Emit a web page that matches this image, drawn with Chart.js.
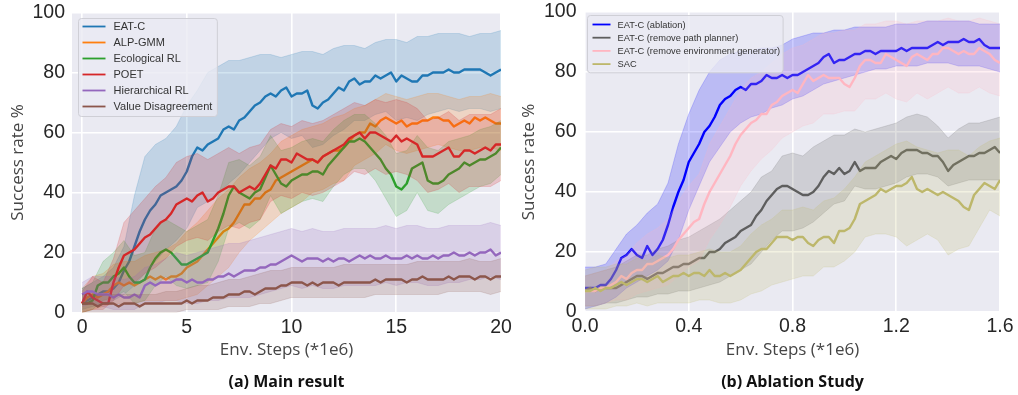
<!DOCTYPE html>
<html>
<head>
<meta charset="utf-8">
<script src="https://cdn.jsdelivr.net/npm/chart.js@4.4.0/dist/chart.umd.min.js"></script>
<style>
  html, body { margin: 0; padding: 0; background: #fff; }
  #wrap { position: relative; width: 1018px; height: 395px; overflow: hidden; }
  canvas { position: absolute; top: 0; }
  #mainChart { left: 0; }
  #ablChart { left: 509px; }
</style>
</head>
<body>
<div id="wrap">
  <canvas id="mainChart" width="530" height="395"></canvas>
  <canvas id="ablChart" width="509" height="395"></canvas>
</div>
<script>
// ---- shared axes ----
var yTicks = [0, 20, 40, 60, 80, 100];

// ---- (a) Main result : x in 1e6 env steps, lines every 0.25, bands every 0.5 ----
var mainXTicks = [0, 5, 10, 15, 20];
var mainStep = 0.25;
var mainBandStep = 0.5;
var mainLabels = ['EAT-C', 'ALP-GMM', 'Ecological RL', 'POET', 'Hierarchical RL', 'Value Disagreement'];
var mainColors = ['31,119,180', '255,127,14', '44,160,44', '214,39,40', '148,103,189', '140,86,75'];

var eatcMean = [3,4,5,6,7,7,8,10,14,17, 22,27,31,34,36,39,40,41,42,44, 47,52,55,54,56,57,58,61,62,61,
  64,65,67,69,70,72,73,72,74,75, 72,73,73,74,69,68,70,71,73,75, 74,77,78,76,77,77,79,78,79,80,
  77,79,78,77,77,79,79,80,80,80, 81,80,80,81,81,81,81,80,79,80, 81];
var eatcUpper = [8,10,12,15,22,39,52,56,58,62, 69,74,80,82,84,84,85,86,86,85, 86,87,87,86,88,89,89,88,90,91,
  91,90,92,92,93,93,93,92,93,93, 94];
var eatcLower = [1,2,3,4,6,9,13,17,21,24, 28,35,37,40,43,46,50,54,58,60, 58,59,55,56,59,61,64,64,66,67,
  64,65,64,66,67,68,67,68,68,67, 68];

var alpMean = [3,5,6,5,6,7,9,10,9,10, 9,10,11,12,11,12,11,12,12,13, 15,16,17,19,21,23,25,27,28,30,
  33,36,36,38,38,40,41,44,45,46, 47,48,49,50,51,50,52,53,54,54, 55,57,59,60,60,63,62,64,65,64,
  63,64,62,63,63,64,64,65,65,64, 64,62,63,64,63,65,64,65,64,63, 63];
var alpUpper = [8,12,13,16,17,17,19,20,21,23, 27,30,34,38,41,45,48,50,53,57, 59,61,62,63,65,66,68,69,71,73,
  72,71,72,73,73,72,71,72,72,73, 72];
var alpLower = [0,1,2,3,3,3,4,4,4,4, 5,6,9,12,15,20,24,27,30,33, 35,37,40,41,43,44,49,51,53,56,
  54,53,54,55,56,55,54,54,55,55, 54];

var ecoMean = [3,3,4,9,10,10,12,13,15,12, 10,10,11,15,18,20,21,20,18,16, 16,17,18,19,20,24,28,33,39,42,
  40,39,38,40,41,45,49,46,43,42, 44,45,46,46,47,47,46,49,51,53, 55,57,57,58,57,55,53,51,48,46,
  42,41,43,48,49,50,44,43,43,44, 46,47,48,50,49,50,51,51,52,53, 55];
var ecoUpper = [8,10,17,20,24,19,20,28,31,29, 27,29,31,39,50,51,49,52,59,54, 55,57,58,57,61,64,66,66,63,59,
  53,54,59,55,54,57,58,59,61,62, 64];
var ecoLower = [0,1,4,5,7,3,4,9,12,9, 8,9,10,17,28,30,28,31,39,33, 35,37,38,37,42,46,48,48,44,38,
  32,34,40,34,33,36,38,40,42,43, 46];

var poetMean = [3,7,5,4,3,3,10,15,19,20, 21,23,25,26,28,30,31,33,36,37, 38,37,39,40,37,38,40,41,42,42,
  40,41,42,41,43,46,49,48,51,51, 50,53,52,51,51,50,52,53,54,55, 56,58,59,60,58,60,60,59,58,57,
  59,57,58,57,56,52,52,52,53,54, 55,52,52,54,54,53,54,55,54,56, 56];
var poetUpper = [7,12,10,18,30,34,38,42,45,50, 52,53,51,53,55,53,55,56,61,63, 62,64,63,64,66,68,70,69,71,70,
  71,70,68,64,65,67,64,66,66,66, 68];
var poetLower = [0,1,1,4,9,10,13,15,18,22, 24,25,24,27,29,28,30,31,37,39, 38,40,39,40,42,44,47,46,48,46,
  47,46,44,40,41,43,40,42,42,42, 44];

var hrlMean = [6,7,7,6,6,6,5,6,5,5, 6,5,9,10,9,10,10,10,11,11, 10,11,10,10,11,11,12,12,13,12,
  13,14,14,14,15,15,16,16,17,18, 19,18,17,18,18,18,17,18,17,18, 18,17,18,19,18,19,18,18,19,18,
  18,18,19,18,19,18,18,19,18,19, 19,20,19,19,20,19,20,20,21,19, 20];
var hrlUpper = [10,12,12,12,11,12,15,16,18,20, 19,20,21,22,23,23,24,25,26,27, 28,27,28,27,27,28,28,28,28,29,
  28,29,29,28,28,29,29,29,29,30, 29];
var hrlLower = [2,3,2,1,1,1,3,3,4,4, 3,3,4,4,5,5,5,6,7,8, 9,8,9,8,8,9,9,9,9,10,
  9,10,10,9,9,10,10,11,11,12, 11];

var vdMean = [3,3,3,2,3,3,3,2,3,3, 3,2,3,3,3,3,3,3,3,3, 4,3,4,4,4,5,5,5,6,6,
  6,7,7,6,7,8,8,8,9,9, 10,10,10,9,10,9,10,10,10,9, 10,10,10,10,10,10,11,10,11,11,
  11,11,10,11,11,12,11,11,11,11, 12,11,12,12,12,11,12,12,11,12, 12];
var vdUpper = [6,6,6,6,6,6,6,6,7,7, 8,9,9,10,11,11,12,13,14,14, 15,15,15,15,15,16,16,16,16,16,
  16,16,17,17,17,17,17,18,17,17, 18];
var vdLower = [0,0,0,0,0,0,0,0,0,0, 1,1,1,1,2,2,2,3,3,4, 5,5,5,5,5,5,5,5,6,6,
  6,6,6,6,6,7,7,7,7,6, 7];

// ---- (b) Ablation Study : lines every 0.02, bands every 0.04 ----
var ablXTicks = [0, 0.4, 0.8, 1.2, 1.6];
var ablStep = 0.02;
var ablBandStep = 0.04;
var ablLabels = ['EAT-C (ablation)', 'EAT-C (remove path planner)', 'EAT-C (remove environment generator)', 'SAC'];
var ablColors = ['0,0,255', '94,94,94', '255,182,193', '189,183,107'];

var fullMean = [8,8,8,9,9,11,14,18,19,21, 19,18,22,19,21,24,29,35,40,44, 50,53,56,60,62,65,69,71,72,74,
  75,74,76,76,77,79,78,78,79,78, 79,79,80,81,82,83,85,86,83,84, 84,85,86,86,87,87,86,87,87,87,
  87,88,87,88,88,88,88,89,90,89, 90,90,90,91,90,90,91,89,88,88, 88];
var fullUpper = [15,15,16,21,26,29,33,36,43,56, 66,74,80,84,86,87,87,88,88,89, 91,92,93,93,94,94,95,95,95,95,
  96,96,96,97,97,97,97,97,96,96, 96];
var fullLower = [1,2,3,5,8,10,12,14,17,24, 34,42,50,55,60,63,65,66,68,69, 71,72,74,76,77,78,79,80,81,81,
  82,82,82,83,83,83,82,82,82,81, 80];

var noPlanMean = [7,8,7,8,8,8,8,9,10,11, 12,12,11,12,13,13,14,15,15,16, 16,17,18,18,20,20,21,23,24,25,
  27,28,29,32,34,37,39,41,42,42, 41,40,39,39,40,42,45,47,46,48, 46,47,50,47,48,48,48,50,51,52,
  51,53,54,54,54,53,53,52,52,50, 47,49,50,51,52,52,53,53,54,55, 53];
var noPlanUpper = [12,13,14,15,17,19,19,21,22,24, 25,27,29,31,34,37,40,45,47,52, 53,52,55,57,59,59,61,60,61,62,
  63,65,66,65,62,58,61,63,63,64, 65];
var noPlanLower = [2,2,3,3,4,5,5,6,6,7, 7,8,9,10,12,14,16,20,24,27, 27,28,30,33,36,37,42,41,41,42,
  43,45,46,46,45,42,43,44,44,44, 44];

var noGenMean = [7,7,7,8,8,9,10,12,11,13, 14,14,16,16,17,18,19,21,24,26, 28,30,31,36,40,43,46,49,52,56,
  59,61,63,64,66,66,69,70,72,73, 74,73,76,79,77,78,79,78,78,78, 76,75,78,82,84,84,83,83,86,85,
  84,83,82,85,86,85,84,86,86,88, 88,87,86,87,86,86,88,87,86,84, 83];
var noGenUpper = [12,13,14,17,19,23,26,28,31,37, 42,46,56,62,68,74,78,80,83,86, 88,89,91,93,93,94,94,96,96,97,
  97,96,97,97,97,98,97,97,98,97, 96];
var noGenLower = [2,2,3,4,4,6,7,8,9,12, 15,17,24,29,35,42,47,51,54,58, 60,62,63,66,66,67,67,71,71,73,
  71,70,73,71,73,75,73,73,75,73, 72];

var sacMean = [7,7,8,7,8,8,9,10,9,10, 11,11,10,11,12,10,11,12,12,13, 12,13,13,12,14,12,12,13,12,13,
  14,16,18,20,21,21,23,25,25,25, 24,25,25,23,22,24,25,25,23,27, 27,28,31,36,37,38,39,41,40,41,
  42,42,43,45,41,40,41,40,39,40, 39,38,37,35,34,39,41,43,42,41, 44];
var sacUpper = [14,15,15,16,16,18,17,19,18,19, 19,20,21,20,20,22,26,29,31,34, 34,35,34,37,38,41,45,50,52,54,
  56,57,55,54,53,54,54,52,55,57, 58];
var sacLower = [1,1,1,2,2,3,2,3,3,3, 3,4,4,3,3,4,6,7,9,10, 11,12,12,15,15,17,20,25,26,26,
  25,22,24,26,24,19,21,22,28,34, 32];

// ---- helpers ----
function toPoints(values, step) {
  return values.map(function(v, i) { return {x: Math.round(i * step * 1000) / 1000, y: v}; });
}

function buildDatasets(series, labels, colors, step, bandStep) {
  var sets = [];
  var n = series.length;
  for (var k = 0; k < n; k++) {
    var s = series[k];
    var c = colors[k];
    var base = (n - k) * 10;
    sets.push({
      label: labels[k] + ' upper',
      data: toPoints(s.upper, bandStep),
      borderColor: 'rgba(' + c + ',0.22)',
      borderWidth: 0.8,
      backgroundColor: 'rgba(' + c + ',0.2)',
      fill: '+1',
      pointRadius: 0,
      order: base + 2
    });
    sets.push({
      label: labels[k] + ' lower',
      data: toPoints(s.lower, bandStep),
      borderColor: 'rgba(' + c + ',0.22)',
      borderWidth: 0.8,
      fill: false,
      pointRadius: 0,
      order: base + 1
    });
    sets.push({
      label: labels[k],
      data: toPoints(s.mean, step),
      borderColor: 'rgb(' + c + ')',
      borderWidth: 2.4,
      fill: false,
      pointRadius: 0,
      borderJoinStyle: 'round',
      order: base
    });
  }
  return sets;
}

var plotBg = {
  id: 'plotBg',
  beforeDraw: function(chart) {
    var ca = chart.chartArea, ctx = chart.ctx;
    ctx.save();
    ctx.fillStyle = '#EAEAF2';
    ctx.fillRect(ca.left, ca.top, ca.right - ca.left, ca.bottom - ca.top);
    ctx.restore();
  }
};

var caption = {
  id: 'caption',
  afterDraw: function(chart, args, opts) {
    var ca = chart.chartArea, ctx = chart.ctx;
    ctx.save();
    ctx.font = 'bold 16px "Open Sans", sans-serif';
    ctx.fillStyle = '#111';
    ctx.textAlign = 'center';
    ctx.textBaseline = 'middle';
    ctx.fillText(opts.text, (ca.left + ca.right) / 2, opts.y);
    ctx.restore();
  }
};

function roundRect(ctx, x, y, w, h, r) {
  ctx.beginPath();
  ctx.moveTo(x + r, y);
  ctx.arcTo(x + w, y, x + w, y + h, r);
  ctx.arcTo(x + w, y + h, x, y + h, r);
  ctx.arcTo(x, y + h, x, y, r);
  ctx.arcTo(x, y, x + w, y, r);
  ctx.closePath();
}

var boxLegend = {
  id: 'boxLegend',
  afterDraw: function(chart, args, o) {
    var ctx = chart.ctx, ca = chart.chartArea;
    ctx.save();
    ctx.font = o.fontSize + 'px "Liberation Sans", Arial, sans-serif';
    var maxW = 0;
    o.labels.forEach(function(l) { maxW = Math.max(maxW, ctx.measureText(l).width); });
    var bx = Math.round(ca.left + o.offsetX) + 0.5, by = Math.round(ca.top + o.offsetY) + 0.5;
    var bw = o.padLeft + o.sampleLen + o.gap + maxW + o.padRight;
    var bh = o.padTop + o.rowH * (o.labels.length - 1) + o.padBottom;
    roundRect(ctx, bx, by, bw, bh, 3);
    ctx.fillStyle = 'rgba(234,234,242,0.8)';
    ctx.fill();
    ctx.strokeStyle = '#cfcfd6';
    ctx.lineWidth = 1;
    ctx.stroke();
    o.labels.forEach(function(l, i) {
      var cy = by + o.padTop + i * o.rowH;
      ctx.strokeStyle = 'rgb(' + o.colors[i] + ')';
      ctx.lineWidth = o.lineW;
      ctx.beginPath();
      ctx.moveTo(bx + o.padLeft, cy);
      ctx.lineTo(bx + o.padLeft + o.sampleLen, cy);
      ctx.stroke();
      ctx.fillStyle = '#333';
      ctx.textAlign = 'left';
      ctx.textBaseline = 'middle';
      ctx.fillText(l, bx + o.padLeft + o.sampleLen + o.gap, cy + 0.5);
    });
    ctx.restore();
  }
};

function makeChart(id, p) {
  var tickFont = {family: '"Liberation Sans", Arial, sans-serif', size: 19.5};
  var titleFont = {family: '"Open Sans", sans-serif', size: 17};
  return new Chart(document.getElementById(id), {
    type: 'line',
    data: {datasets: p.datasets},
    plugins: [plotBg, boxLegend, caption],
    options: {
      responsive: false,
      animation: false,
      devicePixelRatio: 1,
      layout: {padding: p.padding},
      elements: {line: {tension: 0}},
      plugins: {
        legend: {display: false},
        tooltip: {enabled: false},
        boxLegend: p.legend,
        caption: {text: p.caption, y: 382.5}
      },
      scales: {
        x: {
          type: 'linear',
          min: p.xMin,
          max: p.xMax,
          afterBuildTicks: function(s) { s.ticks = p.xTicks.map(function(v) { return {value: v}; }); },
          afterFit: function(s) { s.height = p.xHeight; s.paddingLeft = 0; s.paddingRight = 0; },
          grid: {color: '#ffffff', lineWidth: 1.6, drawTicks: false},
          border: {display: false},
          ticks: {
            font: tickFont, color: '#262626', padding: 3, maxRotation: 0, autoSkip: false,
            callback: p.xFormat
          },
          title: {display: true, text: 'Env. Steps (*1e6)', font: titleFont, color: '#454545', padding: {top: 0, bottom: 4.8}}
        },
        y: {
          type: 'linear',
          min: 0,
          max: 100,
          afterBuildTicks: function(s) { s.ticks = yTicks.map(function(v) { return {value: v}; }); },
          afterFit: function(s) { s.width = p.yWidth; s.paddingTop = 0; s.paddingBottom = 0; },
          grid: {color: '#ffffff', lineWidth: 1.6, drawTicks: false},
          border: {display: false},
          ticks: {font: tickFont, color: '#262626', padding: p.yPad},
          title: {display: true, text: 'Success rate %', font: titleFont, color: '#454545', padding: {top: p.yTitlePad, bottom: 0}}
        }
      }
    }
  });
}

makeChart('mainChart', {
  datasets: buildDatasets([
    {mean: eatcMean, upper: eatcUpper, lower: eatcLower},
    {mean: alpMean, upper: alpUpper, lower: alpLower},
    {mean: ecoMean, upper: ecoUpper, lower: ecoLower},
    {mean: poetMean, upper: poetUpper, lower: poetLower},
    {mean: hrlMean, upper: hrlUpper, lower: hrlLower},
    {mean: vdMean, upper: vdUpper, lower: vdLower}
  ], mainLabels, mainColors, mainStep, mainBandStep),
  padding: {top: 12.5, right: 29, bottom: 30, left: 0},
  xMin: -0.48, xMax: 20, xTicks: mainXTicks, xHeight: 52.5,
  xFormat: function(v) { return String(v); },
  yWidth: 72, yPad: 7, yTitlePad: 8.3,
  caption: '(a) Main result',
  legend: {labels: mainLabels, colors: mainColors, fontSize: 11, offsetX: 6, offsetY: 5,
    padLeft: 4, sampleLen: 23, gap: 8, padRight: 5, padTop: 8, rowH: 16, padBottom: 10, lineW: 1.8}
});

makeChart('ablChart', {
  datasets: buildDatasets([
    {mean: fullMean, upper: fullUpper, lower: fullLower},
    {mean: noPlanMean, upper: noPlanUpper, lower: noPlanLower},
    {mean: noGenMean, upper: noGenUpper, lower: noGenLower},
    {mean: sacMean, upper: sacUpper, lower: sacLower}
  ], ablLabels, ablColors, ablStep, ablBandStep),
  padding: {top: 12, right: 18, bottom: 30, left: 0},
  xMin: 0, xMax: 1.6, xTicks: ablXTicks, xHeight: 53,
  xFormat: function(v) { return Number(v).toFixed(1); },
  yWidth: 76, yPad: 8.5, yTitlePad: 10.3,
  caption: '(b) Ablation Study',
  legend: {labels: ablLabels, colors: ablColors, fontSize: 9.3, offsetX: 2, offsetY: 3,
    padLeft: 5, sampleLen: 18, gap: 7, padRight: 3, padTop: 9, rowH: 13.2, padBottom: 8.7, lineW: 1.8}
});
</script>
</body>
</html>
